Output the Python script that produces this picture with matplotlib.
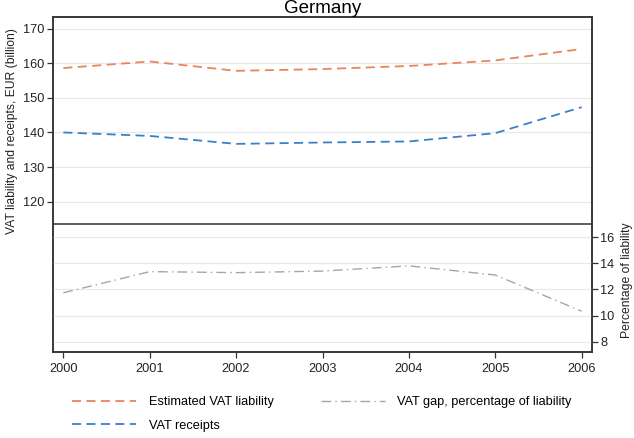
import matplotlib
matplotlib.use("Agg")
import matplotlib.pyplot as plt

plt.rcParams['font.family'] = ['Liberation Sans', 'DejaVu Sans']

years = [2000, 2001, 2002, 2003, 2004, 2005, 2006]
liability = [158.6, 160.5, 157.8, 158.3, 159.2, 160.8, 164.1]
receipts = [140.0, 139.0, 136.7, 137.1, 137.4, 139.8, 147.3]
gap_pct = [11.74, 13.36, 13.28, 13.4, 13.8, 13.1, 10.33]
left_ticks = [120, 130, 140, 150, 160, 170]
right_ticks = [8, 10, 12, 14, 16]

c_orange = '#E9845F'
c_blue = '#3A80C8'
c_gray = '#A6A6A6'
fs = 9.2

fig = plt.figure(figsize=(6.34, 4.38), dpi=100)
ax = fig.add_axes([53/634, 1-352/438, (592-53)/634, (352-17.5)/438])
ax2 = ax.twinx()

ax.set_xlim(1999.88, 2006.12)
ax.set_ylim(76.6, 173.2)
ax2.set_ylim(7.21, 32.8)

for t in left_ticks:
    ax.axhline(t, color='#E8E8E8', lw=0.9, zorder=0)
for t in right_ticks:
    ax2.axhline(t, color='#E8E8E8', lw=0.9, zorder=0)

l1, = ax.plot(years, liability, color=c_orange, lw=1.3, dashes=(5, 3), label='Estimated VAT liability')
l2, = ax.plot(years, receipts, color=c_blue, lw=1.3, dashes=(5, 3), label='VAT receipts')
l3, = ax2.plot(years, gap_pct, color=c_gray, lw=1.0, dashes=(7, 3, 1, 3), label='VAT gap, percentage of liability')

ax.axhline(113.6, color='#333333', lw=1.1, zorder=5)

ax.set_xticks(years)
ax.set_yticks(left_ticks)
ax2.set_yticks(right_ticks)
for a in (ax, ax2):
    a.tick_params(labelsize=fs, length=4, width=0.9, color='#333333', labelcolor='#222222', pad=2)
    for s in a.spines.values():
        s.set_color('#333333')
        s.set_linewidth(1.1)
ax.tick_params(axis='x', pad=4)

fig.text(12/634, 1-131/438, 'VAT liability and receipts, EUR (billion)', rotation=90,
         ha='center', va='center', fontsize=8.7, color='#222222')
fig.text(627/634, 1-280/438, 'Percentage of liability', rotation=90,
         ha='center', va='center', fontsize=8.7, color='#222222')
fig.text(322.5/634, 1-13/438, 'Germany', ha='center', va='baseline', fontsize=13.5)

fig.legend(handles=[l1, l2, l3], ncol=2, frameon=False, fontsize=fs,
           loc='center left', bbox_to_anchor=(72/634, 1-414/438),
           borderpad=0, borderaxespad=0, handlelength=5.0, handletextpad=1.0,
           columnspacing=3.7, labelspacing=0.9)

fig.savefig('out.png', dpi=100)
